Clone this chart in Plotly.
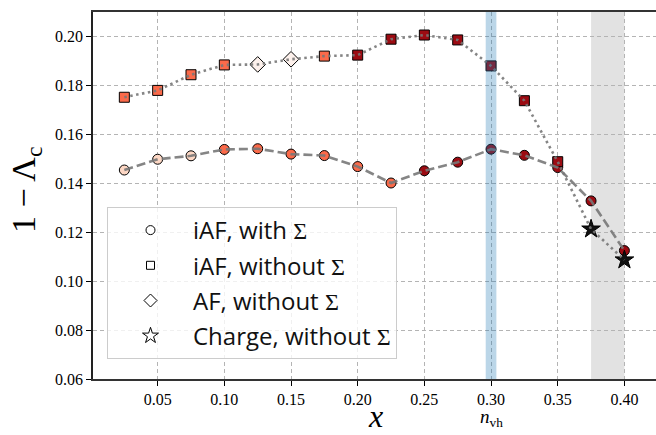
import plotly.graph_objects as go

# ---- data ----
x_vals = [0.025, 0.05, 0.075, 0.10, 0.125, 0.15, 0.175, 0.20, 0.225, 0.25,
          0.275, 0.30, 0.325, 0.35, 0.375, 0.40]
with_sigma = [0.1453, 0.1497, 0.1511, 0.1537, 0.1540, 0.1518, 0.1512, 0.1467,
              0.1400, 0.1450, 0.1485, 0.1538, 0.1513, 0.1463, 0.1327, 0.1124]
without_sigma = [0.1750, 0.1778, 0.1842, 0.1882, 0.1884, 0.1905, 0.1918, 0.1922,
                 0.1987, 0.2004, 0.1984, 0.1878, 0.1736, 0.1487, 0.1212, 0.1086]
phase_without = ["iAF", "iAF", "iAF", "iAF", "AF", "AF", "iAF", "iAF", "iAF",
                 "iAF", "iAF", "iAF", "iAF", "iAF", "Charge", "Charge"]
x_ticks = [0.05, 0.10, 0.15, 0.20, 0.25, 0.30, 0.35, 0.40]
y_ticks = [0.06, 0.08, 0.10, 0.12, 0.14, 0.16, 0.18, 0.20]
n_vh = 0.30
nvh_band = [0.296, 0.304]
grey_band = [0.375, 0.40]

# ---- styles ----
PALE, SALMON, DARK, WHITEISH, STAR = "#fdd7c4", "#fb6a4a", "#9c0b12", "#fdf1ec", "#111111"
with_colors = [PALE, PALE, PALE, SALMON, SALMON, SALMON, SALMON, SALMON, SALMON,
               DARK, DARK, DARK, DARK, DARK, DARK, DARK]
without_colors = [SALMON, SALMON, SALMON, SALMON, WHITEISH, WHITEISH, SALMON, DARK, DARK,
                  DARK, DARK, DARK, DARK, DARK, STAR, STAR]
sym_map = {"iAF": "square", "AF": "diamond", "Charge": "star"}
size_map = {"iAF": 10, "AF": 12, "Charge": 14}

SERIF = "Liberation Serif, Times New Roman, serif"
SANS = "Open Sans, DejaVu Sans, sans-serif"

fig = go.Figure()

# markers (drawn first, lines on top as in the reference)
fig.add_trace(go.Scatter(
    x=x_vals, y=with_sigma, mode="markers", showlegend=False,
    marker=dict(symbol="circle", size=10, color=with_colors, opacity=1,
                line=dict(color="black", width=1))))
fig.add_trace(go.Scatter(
    x=x_vals, y=without_sigma, mode="markers", showlegend=False,
    marker=dict(symbol=[sym_map[p] for p in phase_without],
                size=[size_map[p] for p in phase_without], opacity=1,
                color=without_colors, line=dict(color="black", width=1))))

# connecting lines
fig.add_trace(go.Scatter(
    x=x_vals, y=with_sigma, mode="lines", showlegend=False,
    line=dict(color="rgba(120,120,120,0.9)", width=2.6, dash="9px,4px")))
fig.add_trace(go.Scatter(
    x=x_vals, y=without_sigma, mode="lines", showlegend=False,
    line=dict(color="rgba(120,120,120,0.9)", width=2.6, dash="2.5px,3.5px")))

# legend-only entries
sig = '<span style="font-family:Liberation Serif">Σ</span>'
legend_items = [("circle", 9, "iAF, with " + sig),
                ("square", 8, "iAF, without " + sig),
                ("diamond", 10, "AF, without " + sig),
                ("star", 12, "Charge, without " + sig)]
for i, (sym, sz, name) in enumerate(legend_items):
    fig.add_trace(go.Scatter(
        x=[None], y=[None], mode="markers", name=name, legendgroup=f"g{i}",
        marker=dict(symbol=sym, size=sz, color="white",
                    line=dict(color="black", width=1))))

# bands
fig.add_shape(type="rect", xref="x", yref="paper", x0=grey_band[0], x1=grey_band[1],
              y0=0, y1=1, fillcolor="rgba(128,128,128,0.23)", line_width=0, layer="between")
fig.add_shape(type="rect", xref="x", yref="paper", x0=nvh_band[0], x1=nvh_band[1],
              y0=0, y1=1, fillcolor="rgba(31,119,180,0.3)", line_width=0, layer="above")

W, H = 656, 435
L, R, T, B = 93, 0, 12, 56
pw, ph = W - L - R, H - T - B

fig.update_layout(
    width=W, height=H, margin=dict(l=L, r=R, t=T, b=B),
    paper_bgcolor="white", plot_bgcolor="white",
    font=dict(family=SERIF, color="black"),
    showlegend=True,
    legend=dict(x=(107 - L) / pw, y=1 - (207 - T) / ph, xanchor="left", yanchor="top",
                bgcolor="rgba(255,255,255,0.8)", bordercolor="#cccccc", borderwidth=1,
                font=dict(family=SANS, size=24, color="#111"),
                tracegroupgap=1, itemwidth=75, traceorder="grouped"),
    xaxis=dict(range=[0.0015, 0.4237], tickvals=x_ticks,
               ticktext=[f"{v:.2f}" for v in x_ticks],
               showgrid=True, gridcolor="#b4b4b4", griddash="4px,3px", gridwidth=1,
               showline=True, linecolor="#333333", linewidth=1.6, mirror=True,
               ticks="outside", ticklen=5, tickwidth=1.2, tickcolor="black",
               ticklabelstandoff=0,
               tickfont=dict(family=SERIF, size=16), zeroline=False),
    yaxis=dict(range=[0.06, 0.2098], tickvals=y_ticks,
               ticktext=[f"{v:.2f}" for v in y_ticks],
               showgrid=True, gridcolor="#b4b4b4", griddash="4px,3px", gridwidth=1,
               showline=True, linecolor="#222222", linewidth=1.6, mirror=False,
               ticks="outside", ticklen=5, tickwidth=1.2, tickcolor="black",
               tickfont=dict(family=SERIF, size=16), zeroline=False),
)

fig.add_annotation(text="1 − Λ<sub>c</sub>", xref="paper", yref="paper",
                   x=-(L - 26) / pw, y=1 - (190 - T) / ph, textangle=-90,
                   showarrow=False, font=dict(family=SERIF, size=34),
                   xanchor="center", yanchor="middle")
fig.add_annotation(text="<i>x</i>", xref="x", yref="paper", x=0.213, y=-(416 - (T + ph)) / ph,
                   showarrow=False, font=dict(family=SERIF, size=32),
                   xanchor="center", yanchor="middle")
fig.add_annotation(text="<i>n</i><sub>vh</sub>", xref="x", yref="paper", x=n_vh,
                   y=-(418 - (T + ph)) / ph, showarrow=False,
                   font=dict(family=SERIF, size=19), xanchor="center", yanchor="middle")

fig.write_html("out.html")
